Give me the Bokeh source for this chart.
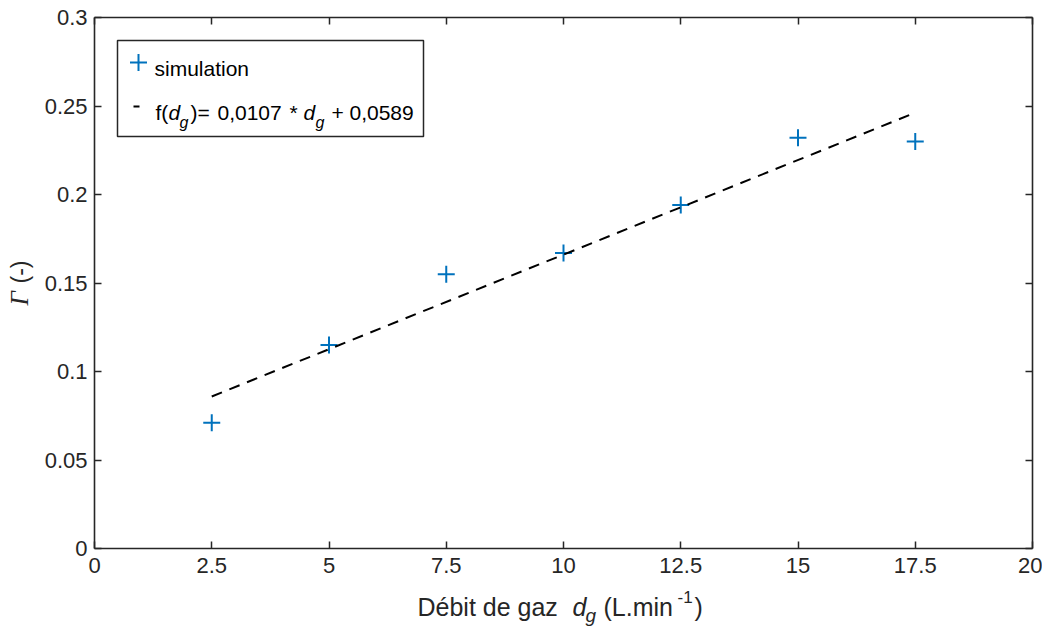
import math
from bokeh.plotting import figure
from bokeh.layouts import row, column
from bokeh.models import (Range1d, FixedTicker, LinearAxis, Label, BoxAnnotation,
                          ColumnDataSource)
from bokeh.embed import file_html
from bokeh.resources import INLINE

# ---- data ----
debit = [2.5, 5.0, 7.5, 10.0, 12.5, 15.0, 17.5]
gamma = [0.071, 0.115, 0.155, 0.167, 0.194, 0.232, 0.230]
fit_x = [2.5, 17.5]
fit_y = [0.0859, 0.2462]
x_ticks = [0, 2.5, 5, 7.5, 10, 12.5, 15, 17.5, 20]
x_tick_labels = ["0", "2.5", "5", "7.5", "10", "12.5", "15", "17.5", "20"]
y_ticks = [0, 0.05, 0.1, 0.15, 0.2, 0.25, 0.3]
y_tick_labels = ["0", "0.05", "0.1", "0.15", "0.2", "0.25", "0.3"]
legend_sim = "simulation"

BLUE = "#0072BD"
AX = "#262626"
FONT = "Liberation Sans"

YL_W = 40          # width of the strip holding the y-axis title
TOTAL_H = 630
MAIN_H = 588       # main figure height
XL_H = TOTAL_H - MAIN_H

p = figure(width=1042 - YL_W, height=MAIN_H, output_backend="svg",
           toolbar_location=None,
           x_range=Range1d(0, 20), y_range=Range1d(0, 0.3),
           min_border_left=94 - YL_W, min_border_right=10, min_border_top=17,
           min_border_bottom=MAIN_H - 548)
p.xgrid.visible = False
p.ygrid.visible = False
p.outline_line_color = None
p.background_fill_color = "white"
p.border_fill_color = "white"

# picture-pixel -> data helpers (frame: x 94..1032, y 17..548 on the picture)
def dx(px):
    return (px - 94) * 20.0 / 938.0

def dy(py):
    return (548 - py) * 0.3 / 531.0

def style_axis(ax, ticks, labels, show_labels=True):
    ax.ticker = FixedTicker(ticks=ticks)
    ax.minor_tick_line_color = None
    ax.major_tick_in = 7
    ax.major_tick_out = 0
    ax.axis_line_color = AX
    ax.axis_line_width = 1.6
    ax.major_tick_line_color = AX
    ax.major_tick_line_width = 1.5
    ax.major_label_text_font = FONT
    ax.major_label_text_color = AX
    if show_labels:
        ax.major_label_overrides = {t: l for t, l in zip(ticks, labels)}
        ax.major_label_text_font_size = "22px"
    else:
        ax.major_label_overrides = {t: "" for t in ticks}
        ax.major_label_text_font_size = "1px"
        ax.major_label_standoff = 0

style_axis(p.xaxis[0], x_ticks, x_tick_labels)
p.xaxis[0].major_label_standoff = 9
style_axis(p.yaxis[0], y_ticks, y_tick_labels)
p.yaxis[0].major_label_standoff = 7

top = LinearAxis()
style_axis(top, x_ticks, x_tick_labels, show_labels=False)
p.add_layout(top, "above")
right = LinearAxis()
style_axis(right, y_ticks, y_tick_labels, show_labels=False)
p.add_layout(right, "right")

# ---- data marks ----
src = ColumnDataSource(dict(x=debit, y=gamma))
p.scatter("x", "y", source=src, marker="cross", size=17, line_width=2,
          line_color=BLUE)
p.line(fit_x, fit_y, line_color="black", line_width=2, line_dash="11 8")

# ---- legend (manual, for subscripts) ----
p.add_layout(BoxAnnotation(left=dx(117), right=dx(423), top=dy(40), bottom=dy(136),
                           fill_color="white", fill_alpha=1.0,
                           line_color=AX, line_alpha=1.0, line_width=1.5,
                           level="underlay"))
p.scatter([dx(138)], [dy(62)], marker="cross", size=17, line_width=2,
          line_color=BLUE)
p.line([dx(133), dx(139)], [dy(106), dy(106)], line_color="black", line_width=2)

def mk_label(text, x, y, size, style, font, angle, color):
    return Label(x=x, y=y, text=text, text_font=font, text_font_size=size,
                 text_font_style=style, text_align="left",
                 text_baseline="alphabetic", angle=angle, text_color=color)

def lab(text, px, py, size, style="normal", font=FONT, color="black"):
    p.add_layout(mk_label(text, dx(px), dy(py), size, style, font, 0.0, color))

lab(legend_sim, 154, 68, "21px")
lab("f(", 155, 112, "21px")
lab("d", 168, 112, "21px", "italic")
lab("g", 179, 122, "16px", "italic")
lab(")=", 190, 112, "21px")
lab("0,0107", 217, 112, "21px")
lab("*", 289, 112, "21px")
lab("d", 303, 112, "21px", "italic")
lab("g", 315, 122, "16px", "italic")
lab("+", 331, 112, "21px")
lab("0,0589", 349, 112, "21px")

# ---- strip below the main figure: x-axis title ----
# (its frame is aligned with the main frame: picture x 94..1032)
xfig = figure(width=1042 - YL_W, height=XL_H, output_backend="svg",
              toolbar_location=None, x_axis_location=None, y_axis_location=None,
              x_range=Range1d(94, 1032), y_range=Range1d(0, XL_H),
              min_border=0, min_border_left=0, min_border_right=0,
              min_border_top=0, min_border_bottom=0)
xfig.outline_line_color = None
xfig.xgrid.visible = False
xfig.ygrid.visible = False

XSHIFT_Y = 7

def xlab(text, px, py, size, style="normal"):
    xfig.add_layout(mk_label(text, px, TOTAL_H - (py - XSHIFT_Y), size, style,
                             FONT, 0.0, AX))

xlab("Débit de gaz", 417, 613, "25px")
xlab("d", 572, 613, "25px", "italic")
xlab("g", 585, 622, "19px", "italic")
xlab("(L.min", 603, 613, "25px")
xlab("-1", 677, 603, "17px")
xlab(")", 694, 613, "25px")

# ---- strip left of the main figure: y-axis title ----
yfig = figure(width=YL_W, height=TOTAL_H, output_backend="svg",
              toolbar_location=None, x_axis_location=None, y_axis_location=None,
              x_range=Range1d(0, YL_W), y_range=Range1d(0, TOTAL_H),
              min_border=0, min_border_left=0, min_border_right=0,
              min_border_top=0, min_border_bottom=0)
yfig.outline_line_color = None
yfig.xgrid.visible = False
yfig.ygrid.visible = False

yfig.add_layout(mk_label("Γ", 19, TOTAL_H - 305, "25px", "italic",
                         "Liberation Serif", math.pi / 2, AX))
yfig.add_layout(mk_label("(-)", 19, TOTAL_H - 283, "23px", "normal",
                         FONT, math.pi / 2, AX))

layout = row(yfig, column(p, xfig, spacing=0), spacing=0)

open("out.html", "w").write(file_html(layout, INLINE))
